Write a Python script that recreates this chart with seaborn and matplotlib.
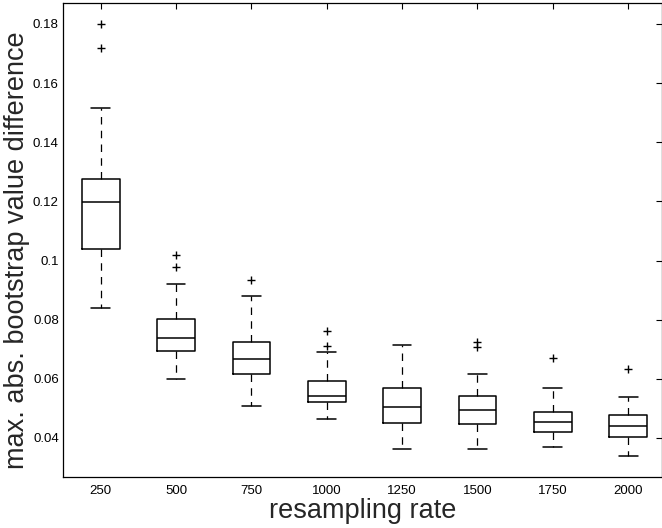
import numpy as np
import pandas as pd
import matplotlib
matplotlib.use("Agg")
import matplotlib.pyplot as plt
import seaborn as sns

# ---- data (five-number summaries) ----
rates = [250, 500, 750, 1000, 1250, 1500, 1750, 2000]
whisker_lo = [0.0841, 0.0601, 0.0508, 0.0463, 0.0363, 0.0363, 0.0370, 0.0339]
q1 = [0.1039, 0.0695, 0.0615, 0.0523, 0.0450, 0.0448, 0.0419, 0.0403]
median = [0.1197, 0.0739, 0.0667, 0.0542, 0.0506, 0.0496, 0.0455, 0.0441]
q3 = [0.1276, 0.0803, 0.0726, 0.0594, 0.0570, 0.0542, 0.0489, 0.0477]
whisker_hi = [0.1517, 0.0920, 0.0881, 0.0692, 0.0715, 0.0616, 0.0569, 0.0539]
outlier_rate = [250, 250, 500, 500, 750, 1000, 1000, 1500, 1500, 1750, 2000]
outlier_value = [0.180, 0.1718, 0.1019, 0.0979, 0.0934, 0.0762, 0.0711, 0.0726, 0.0707, 0.0670, 0.0633]
ytick_values = [0.04, 0.06, 0.08, 0.10, 0.12, 0.14, 0.16, 0.18]
ytick_labels = ["0.04", "0.06", "0.08", "0.1", "0.12", "0.14", "0.16", "0.18"]

order = [str(r) for r in rates]
rows = []
for i, r in enumerate(rates):
    for v in (whisker_lo[i], q1[i], median[i], q3[i], whisker_hi[i]):
        rows.append({"rate": str(r), "value": v})
df = pd.DataFrame(rows)
df_out = pd.DataFrame({"rate": [str(r) for r in outlier_rate], "value": outlier_value})

sns.set_style("white")
plt.rcParams["font.family"] = ["Liberation Sans", "DejaVu Sans"]

fig = plt.figure(figsize=(6.62, 5.28), dpi=100)
ax = fig.add_axes([63 / 662, 51 / 528, 599 / 662, 474 / 528])

sns.boxplot(
    data=df, x="rate", y="value", order=order, ax=ax,
    whis=(0, 100), width=0.5, fill=False, color="black", linewidth=1.1,
    whiskerprops=dict(linestyle=(0, (6, 5)), linewidth=0.9),
    capprops=dict(linewidth=1.1),
    medianprops=dict(linewidth=1.1, color="black"),
    showfliers=False,
)
sns.stripplot(
    data=df_out, x="rate", y="value", order=order, ax=ax,
    jitter=False, marker="+", color="black", size=6, linewidth=1.0,
)

ax.set_xlim(-0.5, 7.45)
ax.set_ylim(0.0268, 0.1871)
ax.set_yticks(ytick_values)
ax.set_yticklabels(ytick_labels)
ax.tick_params(direction="in", length=4, width=0.8, top=True, right=True,
               labelsize=9.5, colors="black")
ax.tick_params(axis="x", pad=6)
ax.tick_params(axis="y", pad=3)
for s in ax.spines.values():
    s.set_color("black")
    s.set_linewidth(0.9)

ax.set_xlabel("resampling rate", fontsize=19.5)
ax.set_ylabel("max. abs. bootstrap value difference", fontsize=19.5)
ax.xaxis.set_label_coords(0.5, -0.045)
ax.yaxis.set_label_coords(-0.055, 0.479)

fig.savefig("out.png", dpi=100)
